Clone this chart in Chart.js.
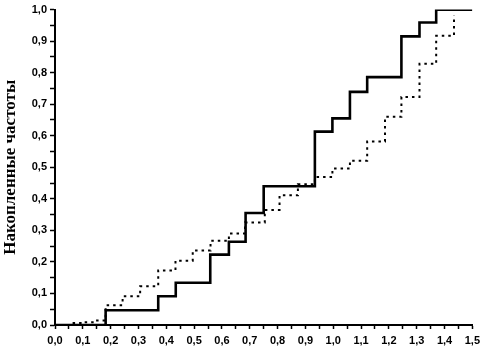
<!DOCTYPE html>
<html>
<head>
<meta charset="utf-8">
<script src="https://cdn.jsdelivr.net/npm/chart.js@4/dist/chart.umd.min.js"></script>
<style>
  html, body { margin: 0; padding: 0; background: #fff; }
  #wrap { width: 485px; height: 351px; }
</style>
</head>
<body>
<div id="wrap"><canvas id="cumChart" width="485" height="351"></canvas></div>
<script>
// Cumulative frequencies (step functions)
const solidX = [0, 0.182, 0.371, 0.434, 0.558, 0.625, 0.685, 0.75, 0.934, 0.997, 1.06, 1.122, 1.245, 1.31, 1.37, 1.5];
const solidY = [0, 0.047, 0.091, 0.134, 0.223, 0.264, 0.355, 0.44, 0.613, 0.655, 0.739, 0.786, 0.915, 0.959, 1.0, 1.0];

const dottedX = [0, 0.057, 0.105, 0.14, 0.182, 0.243, 0.306, 0.371, 0.433, 0.495, 0.559, 0.625, 0.683, 0.754, 0.807, 0.873, 0.934, 0.997, 1.06, 1.122, 1.186, 1.245, 1.31, 1.37, 1.434];
const dottedY = [0, 0.006, 0.009, 0.014, 0.063, 0.091, 0.123, 0.173, 0.204, 0.236, 0.267, 0.29, 0.325, 0.365, 0.411, 0.446, 0.469, 0.496, 0.521, 0.582, 0.66, 0.723, 0.828, 0.917, 0.982];

const xTickLabels = ["0,0", "0,1", "0,2", "0,3", "0,4", "0,5", "0,6", "0,7", "0,8", "0,9", "1,0", "1,1", "1,2", "1,3", "1,4", "1,5"];
const yTickLabels = ["0,0", "0,1", "0,2", "0,3", "0,4", "0,5", "0,6", "0,7", "0,8", "0,9", "1,0"];

const yTitle = "Накопленные частоты";

function toPoints(xs, ys) {
  return xs.map((x, i) => ({ x: x, y: ys[i] }));
}

// label only on whole tenths, minor ticks get an empty label
function tenthLabel(labels) {
  return function (value) {
    const k = Math.round(value * 10);
    if (Math.abs(value * 10 - k) > 0.001) return "";
    return labels[k] !== undefined ? labels[k] : "";
  };
}

const tickFont = { family: "'Liberation Sans', Arial, sans-serif", size: 11, weight: "bold" };

const ctx = document.getElementById("cumChart").getContext("2d");

new Chart(ctx, {
  type: "line",
  data: {
    datasets: [
      {
        data: toPoints(solidX, solidY),
        borderColor: "#000",
        borderWidth: 2.6,
        stepped: true,
        pointRadius: 0,
        fill: false,
      },
      {
        data: toPoints(dottedX, dottedY),
        borderColor: "#000",
        borderWidth: 2,
        borderDash: [2.5, 4],
        stepped: true,
        pointRadius: 0,
        fill: false,
      },
    ],
  },
  options: {
    responsive: false,
    animation: false,
    layout: { padding: { top: 0, right: 2, left: 0, bottom: 0 } },
    plugins: {
      legend: { display: false },
      tooltip: { enabled: false },
    },
    scales: {
      x: {
        type: "linear",
        min: 0,
        max: 1.5,
        border: { display: true, color: "#000", width: 2 },
        grid: { drawOnChartArea: false, color: "#000", tickLength: 4, tickWidth: 1.5 },
        ticks: {
          stepSize: 0.05,
          autoSkip: false,
          maxRotation: 0,
          color: "#000",
          font: tickFont,
          padding: 5,
          callback: tenthLabel(xTickLabels),
        },
        afterFit: function (scale) { scale.height = 26; },
      },
      y: {
        type: "linear",
        min: 0,
        max: 1,
        border: { display: true, color: "#000", width: 2 },
        grid: { drawOnChartArea: false, color: "#000", tickLength: 5, tickWidth: 1.5 },
        ticks: {
          stepSize: 0.05,
          autoSkip: false,
          color: "#000",
          font: tickFont,
          padding: 3,
          callback: tenthLabel(yTickLabels),
        },
        title: {
          display: true,
          text: yTitle,
          color: "#000",
          font: { family: "'Liberation Serif', 'Times New Roman', serif", size: 17, weight: "bold" },
          padding: { top: 0, bottom: 2 },
        },
        afterFit: function (scale) { scale.width = 55; },
      },
    },
  },
});
</script>
</body>
</html>
